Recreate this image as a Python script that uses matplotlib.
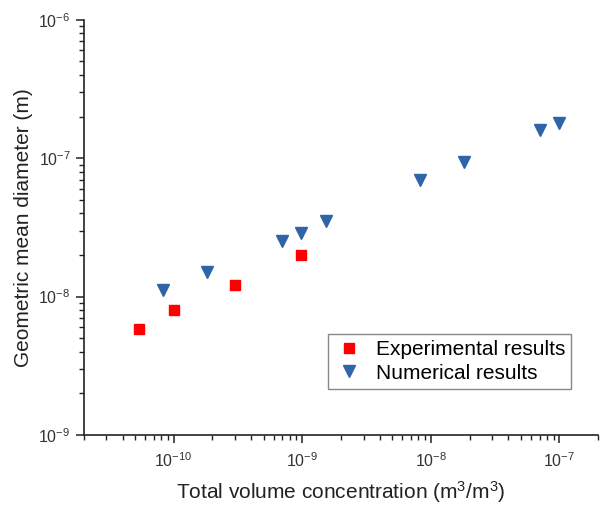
import matplotlib
matplotlib.use("Agg")
import matplotlib.pyplot as plt
from matplotlib.ticker import LogLocator, NullFormatter

plt.rcParams['font.family'] = ['Liberation Sans', 'DejaVu Sans']
plt.rcParams['mathtext.fontset'] = 'custom'
plt.rcParams['mathtext.rm'] = 'Liberation Sans'
plt.rcParams['mathtext.it'] = 'Liberation Sans'

# experimental points
exp_x = [5.4e-11, 1.0e-10, 3.0e-10, 9.8e-10]
exp_y = [5.85e-9, 8.05e-9, 1.22e-8, 2.0e-8]

# numerical points
num_x = [8.25e-11, 1.82e-10, 6.9e-10, 9.8e-10, 1.53e-9, 8.2e-9, 1.82e-8, 7.0e-8, 1.0e-7]
num_y = [1.12e-8, 1.50e-8, 2.54e-8, 2.90e-8, 3.51e-8, 6.98e-8, 9.46e-8, 1.585e-7, 1.81e-7]

x_ticks = [1e-10, 1e-9, 1e-8, 1e-7]
y_ticks = [1e-9, 1e-8, 1e-7, 1e-6]

fig = plt.figure(figsize=(6.03, 5.07), dpi=100)
ax = fig.add_axes([0.139, 0.142, 0.853, 0.819])

ax.plot(exp_x, exp_y, 's', color='#FF0000', ms=6.8, mec='#FF0000', label='Experimental results')
ax.plot(num_x, num_y, 'v', color='#2F65A8', ms=8.5, mec='#2F65A8', label='Numerical results')

ax.set_xscale('log')
ax.set_yscale('log')
ax.set_xlim(2e-11, 2e-7)
ax.set_ylim(1e-9, 1e-6)
ax.set_xticks(x_ticks)
ax.set_yticks(y_ticks)

ax.spines['top'].set_visible(False)
ax.spines['right'].set_visible(False)
for s in ('left', 'bottom'):
    ax.spines[s].set_linewidth(1.2)
    ax.spines[s].set_color('#222222')

ax.xaxis.set_minor_locator(LogLocator(base=10, subs=range(2, 10), numticks=20))
ax.xaxis.set_minor_formatter(NullFormatter())
ax.yaxis.set_minor_formatter(NullFormatter())
ax.tick_params(which='major', length=6, width=1.1, labelsize=11.5, colors='#222222', labelcolor='#333333')
ax.tick_params(which='minor', length=3.5, width=1.0, colors='#222222')
ax.tick_params(axis='x', pad=6)

ax.set_xlabel('Total volume concentration (m$^3$/m$^3$)', fontsize=15, color='#222222', labelpad=6)
ax.set_ylabel('Geometric mean diameter (m)', fontsize=15, color='#222222', labelpad=4)

leg = ax.legend(loc='lower right', bbox_to_anchor=(0.968, 0.086), fontsize=15, fancybox=False,
                edgecolor='#888888', framealpha=1, handletextpad=0.6, borderpad=0.3,
                labelspacing=0.2, handlelength=1.4)
leg.get_frame().set_linewidth(1.0)

fig.savefig('out.png', dpi=100)
